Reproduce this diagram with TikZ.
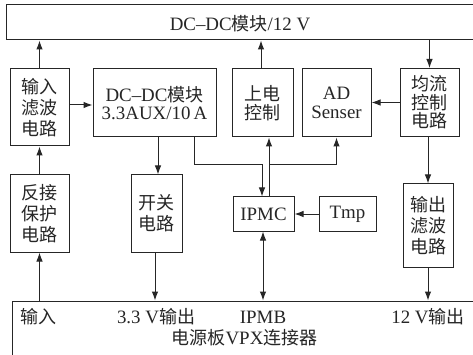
\documentclass[tikz,border=0pt]{standalone}
\usepackage{fontspec}
\setmainfont{Liberation Serif}[Scale=1.05]
\newfontfamily\cjk{Noto Sans CJK SC}
\usetikzlibrary{arrows.meta}
\definecolor{ink}{HTML}{262626}
\begin{document}
\begin{tikzpicture}[x=1pt,y=-1pt,
  box/.style={draw=ink, line width=1pt, inner sep=0pt, align=center, text=ink,
    font=\fontsize{18}{21}\selectfont},
  tight/.style={font=\fontsize{18}{18.5}\selectfont},
  lbl/.style={inner sep=0pt, text=ink, font=\fontsize{18}{20}\selectfont},
  arr/.style={draw=ink, line width=1pt, -{Latex[length=9pt,width=6.5pt]}},
  darr/.style={draw=ink, line width=1pt, {Latex[length=9pt,width=6.5pt]}-{Latex[length=9pt,width=6.5pt]}}]
\useasboundingbox (0,0) rectangle (473,355);
\fill[white] (0,0) rectangle (473,355);

% top and bottom bars
\node[box, minimum width=470, minimum height=35] (top) at (241,22.5) {};
\node[lbl] (toptxt) at (240,23.5) {DC--DC{\cjk 模块}/12 V};
\node[box, minimum width=463, minimum height=60] (bot) at (243.5,331) {};

% row 1
\node[box, minimum width=59, minimum height=77] (inf) at (39.5,107.5) {\cjk 输入\\\cjk 滤波\\\cjk 电路};
\node[box, tight, minimum width=123, minimum height=68] (dc33) at (154.5,103) {DC--DC{\cjk 模块}\\3.3AUX/10\,A};
\node[box, tight, minimum width=61, minimum height=68] (sd) at (262.5,103) {\cjk 上电\\\cjk 控制};
\node[box, tight, minimum width=69, minimum height=68] (ad) at (336.5,103) {AD\\Senser};
\node[box, tight, minimum width=59, minimum height=68] (jl) at (429.5,102.5) {\cjk 均流\\\cjk 控制\\\cjk 电路};

% row 2
\node[box, minimum width=59, minimum height=77] (fj) at (39.5,213.5) {\cjk 反接\\\cjk 保护\\\cjk 电路};
\node[box, minimum width=51, minimum height=77] (kg) at (156.5,213.5) {\cjk 开关\\\cjk 电路};
\node[box, minimum width=61, minimum height=34] (ipmc) at (263.5,214) {IPMC};
\node[box, minimum width=57, minimum height=34] (tmp) at (347.5,214) {Tmp};
\node[box, minimum width=50, minimum height=83] (out) at (428,225.5) {\cjk 输出\\\cjk 滤波\\\cjk 电路};

% bottom labels
\node[lbl] (l1) at (38.5,317) {\cjk 输入};
\node[lbl] (l2) at (156,317) {3.3 V{\cjk 输出}};
\node[lbl] (l3) at (263,317) {IPMB};
\node[lbl] (l4) at (428,317) {12 V{\cjk 输出}};
\node[lbl] (l5) at (244.5,338) {{\cjk 电源板}VPX{\cjk 连接器}};

% helper coordinates
\coordinate (j1) at (194,165);
\coordinate (pL) at ([xshift=-1.5pt]ipmc.north);
\coordinate (pR) at ([xshift=5.5pt]ipmc.north);

% connectors
\draw[arr] (inf.north) -- (inf.north |- top.south);
\draw[arr] ([xshift=-1.5pt]sd.north) -- ([xshift=-1.5pt]sd.north |- top.south);
\draw[arr] (top.south -| jl.north) -- (jl.north);
\draw[arr] ([yshift=2.5pt]inf.east) -- ([yshift=2.5pt]inf.east -| dc33.west);
\draw[arr] (jl.west) -- (jl.west -| ad.east);
\draw[arr] (fj.north) -- (inf.south);
\draw[arr] ([xshift=3.5pt]dc33.south) -- ([xshift=3.5pt]dc33.south |- kg.north);
\draw[arr] (dc33.south -| j1) -- (j1) -- (pL |- j1) -- (pL);
\draw[arr] (pR) -- (pR |- sd.south);
\draw[arr] (pR |- j1) -| (ad.south);
\draw[arr] (tmp.west) -- (tmp.west -| ipmc.east);
\draw[darr] ([xshift=-0.5pt]ipmc.south) -- ([xshift=-0.5pt]ipmc.south |- bot.north);
\draw[arr] (fj.south |- bot.north) -- (fj.south);
\draw[arr] ([xshift=-1.5pt]kg.south) -- ([xshift=-1.5pt]kg.south |- bot.north);
\draw[arr] (out.south) -- (out.south |- bot.north);
\draw[arr] (out.north |- jl.south) -- (out.north);
\end{tikzpicture}
\end{document}
